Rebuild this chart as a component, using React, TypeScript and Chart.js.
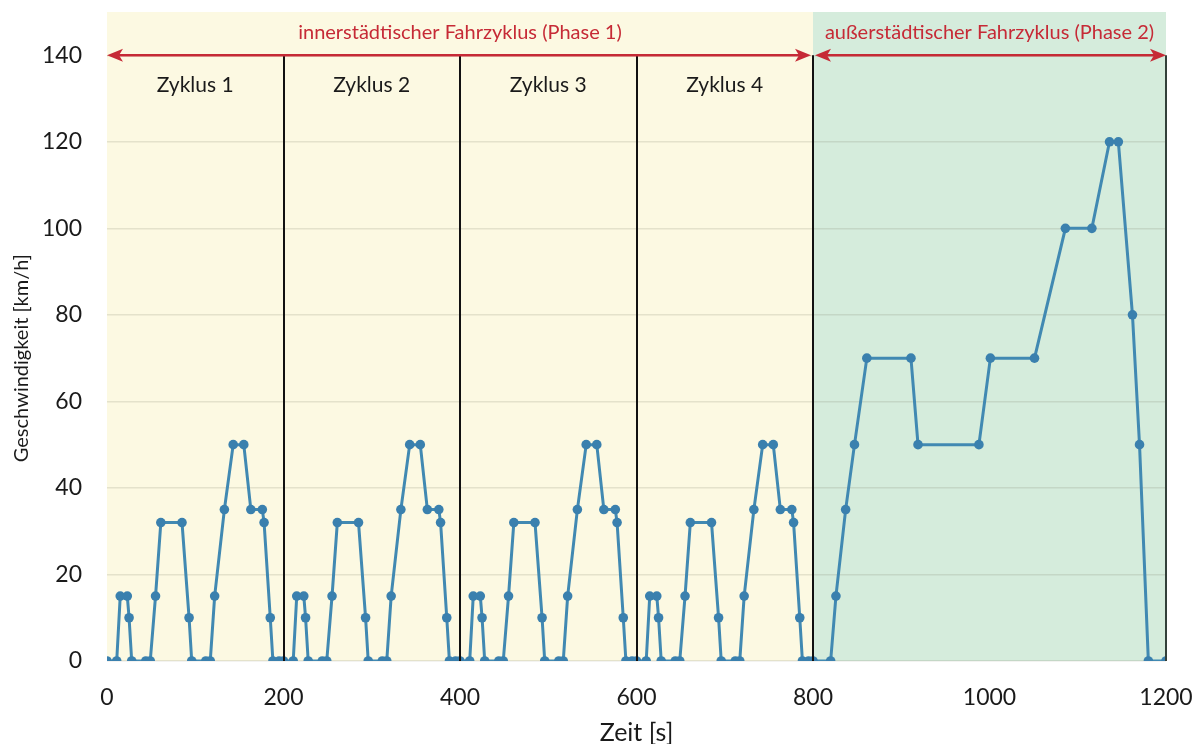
import React, { useEffect, useRef } from "react";
import { Chart, registerables } from "chart.js";

Chart.register(...registerables);

// ---- Data ----
const zeit: number[] = [
  // Zyklus 1
  0, 11, 15, 23, 25, 28, 44, 49, 55, 61, 85, 93, 96, 112, 117, 122, 133, 143, 155, 163, 176, 178, 185, 188, 195,
  // Zyklus 2
  200, 211, 215, 223, 225, 228, 244, 249, 255, 261, 285, 293, 296, 312, 317, 322, 333, 343, 355, 363, 376, 378, 385, 388, 395,
  // Zyklus 3
  400, 411, 415, 423, 425, 428, 444, 449, 455, 461, 485, 493, 496, 512, 517, 522, 533, 543, 555, 563, 576, 578, 585, 588, 595,
  // Zyklus 4
  600, 611, 615, 623, 625, 628, 644, 649, 655, 661, 685, 693, 696, 712, 717, 722, 733, 743, 755, 763, 776, 778, 785, 788, 795,
  // Phase 2
  800, 820, 826, 837, 847, 861, 911, 919, 988, 1001, 1051, 1086, 1116, 1136, 1146, 1162, 1170, 1180, 1200,
];

const geschwindigkeit: number[] = [
  0, 0, 15, 15, 10, 0, 0, 0, 15, 32, 32, 10, 0, 0, 0, 15, 35, 50, 50, 35, 35, 32, 10, 0, 0,
  0, 0, 15, 15, 10, 0, 0, 0, 15, 32, 32, 10, 0, 0, 0, 15, 35, 50, 50, 35, 35, 32, 10, 0, 0,
  0, 0, 15, 15, 10, 0, 0, 0, 15, 32, 32, 10, 0, 0, 0, 15, 35, 50, 50, 35, 35, 32, 10, 0, 0,
  0, 0, 15, 15, 10, 0, 0, 0, 15, 32, 32, 10, 0, 0, 0, 15, 35, 50, 50, 35, 35, 32, 10, 0, 0,
  0, 0, 15, 35, 50, 70, 70, 50, 50, 70, 70, 100, 100, 120, 120, 80, 50, 0, 0,
];

const xTickWerte: number[] = [0, 200, 400, 600, 800, 1000, 1200];
const yTickWerte: number[] = [0, 20, 40, 60, 80, 100, 120, 140];

const zyklusNamen: string[] = ["Zyklus 1", "Zyklus 2", "Zyklus 3", "Zyklus 4"];
const zyklusMitten: number[] = [100, 300, 500, 700];
const zyklusGrenzen: number[] = [200, 400, 600, 800, 1200];

const phasenTitel: string[] = [
  "innerstädtischer Fahrzyklus (Phase 1)",
  "außerstädtischer Fahrzyklus (Phase 2)",
];
const phasenStart: number[] = [0, 800];
const phasenEnde: number[] = [800, 1200];
const phasenFarbe: string[] = ["#FCF9E2", "#D5ECDC"];

const Y_TITEL = "Geschwindigkeit [km/h]";
const X_TITEL = "Zeit [s]";

const X_MIN = 0;
const X_MAX = 1200;
const Y_MIN = 0;
const Y_MAX = 150;
const PFEIL_Y = 140;
const PHASEN_TEXT_Y = 145.3;
const ZYKLUS_TEXT_Y = 133;

const FONT = "Lato, 'Open Sans', sans-serif";
const ROT = "#C62A36";
const LINIE = "#4189B2";
const PUNKT = "#3A80AE";

function pfeilSpitze(ctx: CanvasRenderingContext2D, x: number, y: number, dir: number) {
  const L = 16;
  const W = 6.5;
  const notch = 4;
  ctx.beginPath();
  ctx.moveTo(x, y);
  ctx.lineTo(x - dir * L, y - W);
  ctx.lineTo(x - dir * (L - notch), y);
  ctx.lineTo(x - dir * L, y + W);
  ctx.closePath();
  ctx.fill();
}

const hintergrundPlugin = {
  id: "phasenHintergrund",
  beforeDraw(chart: any) {
    const { ctx, scales } = chart;
    const xs = scales.x;
    const ys = scales.y;
    ctx.save();
    for (let i = 0; i < phasenStart.length; i++) {
      const x1 = xs.getPixelForValue(phasenStart[i]);
      const x2 = xs.getPixelForValue(phasenEnde[i]);
      const y1 = ys.getPixelForValue(Y_MAX);
      const y2 = ys.getPixelForValue(Y_MIN);
      ctx.fillStyle = phasenFarbe[i];
      ctx.fillRect(x1, y1, x2 - x1, y2 - y1);
    }
    // y axis title, centred on the 0..140 range
    const yc = (ys.getPixelForValue(0) + ys.getPixelForValue(140)) / 2;
    ctx.translate(22, yc);
    ctx.rotate(-Math.PI / 2);
    ctx.fillStyle = "#1a1a1a";
    ctx.font = `20px ${FONT}`;
    ctx.textAlign = "center";
    ctx.textBaseline = "middle";
    ctx.fillText(Y_TITEL, 0, 0);
    ctx.restore();
  },
};

const overlayPlugin = {
  id: "annotationen",
  afterDatasetsDraw(chart: any) {
    const { ctx, scales } = chart;
    const xs = scales.x;
    const ys = scales.y;
    const yTop = ys.getPixelForValue(PFEIL_Y);
    const yBot = ys.getPixelForValue(0);
    ctx.save();
    // vertical separators
    for (const g of zyklusGrenzen) {
      const x = Math.round(xs.getPixelForValue(g));
      ctx.strokeStyle = g === 1200 ? "#33403a" : "#111111";
      ctx.lineWidth = 2;
      ctx.beginPath();
      ctx.moveTo(x, yTop);
      ctx.lineTo(x, yBot);
      ctx.stroke();
    }
    // arrows
    ctx.strokeStyle = ROT;
    ctx.fillStyle = ROT;
    ctx.lineWidth = 2.5;
    for (let i = 0; i < phasenStart.length; i++) {
      let x1 = xs.getPixelForValue(phasenStart[i]);
      let x2 = xs.getPixelForValue(phasenEnde[i]);
      if (i === 0) x2 -= 2;
      if (i === 1) x1 += 2;
      const y = yTop;
      ctx.beginPath();
      ctx.moveTo(x1 + 8, y);
      ctx.lineTo(x2 - 8, y);
      ctx.stroke();
      pfeilSpitze(ctx, x1, y, -1);
      pfeilSpitze(ctx, x2, y, 1);
      // label
      ctx.font = `20px ${FONT}`;
      ctx.textAlign = "center";
      ctx.textBaseline = "middle";
      const xm = xs.getPixelForValue((phasenStart[i] + phasenEnde[i]) / 2);
      ctx.fillText(phasenTitel[i], xm, ys.getPixelForValue(PHASEN_TEXT_Y));
    }
    // Zyklus labels
    ctx.fillStyle = "#1a1a1a";
    ctx.font = `21px ${FONT}`;
    for (let i = 0; i < zyklusNamen.length; i++) {
      ctx.fillText(zyklusNamen[i], xs.getPixelForValue(zyklusMitten[i]), ys.getPixelForValue(ZYKLUS_TEXT_Y));
    }
    ctx.restore();
  },
};

export default function App() {
  const ref = useRef<HTMLCanvasElement | null>(null);

  useEffect(() => {
    if (!ref.current) return;
    const punkte = zeit.map((t, i) => ({ x: t, y: geschwindigkeit[i] }));
    const chart = new Chart(ref.current, {
      type: "line",
      data: {
        datasets: [
          {
            label: "Geschwindigkeit",
            data: punkte,
            borderColor: LINIE,
            backgroundColor: PUNKT,
            pointBackgroundColor: PUNKT,
            pointBorderColor: PUNKT,
            pointRadius: 4.8,
            pointBorderWidth: 0,
            borderWidth: 3,
            tension: 0,
            fill: false,
          },
        ],
      },
      options: {
        responsive: false,
        animation: false,
        devicePixelRatio: 1,
        layout: { padding: { top: 12, right: 36, left: 0, bottom: 0 } },
        plugins: {
          legend: { display: false },
          tooltip: { enabled: false },
        },
        scales: {
          x: {
            type: "linear",
            min: X_MIN,
            max: X_MAX,
            afterBuildTicks: (scale: any) => {
              scale.ticks = xTickWerte.map((v) => ({ value: v }));
            },
            afterFit: (scale: any) => {
              scale.height = 83;
              scale.paddingLeft = 0;
              scale.paddingRight = 0;
            },
            grid: { display: false, drawTicks: false },
            border: { display: false },
            ticks: {
              padding: 23,
              color: "#1a1a1a",
              font: { family: FONT, size: 23 },
              maxRotation: 0,
              callback: (v: any) => String(v),
            },
            title: {
              display: true,
              text: X_TITEL,
              color: "#1a1a1a",
              font: { family: FONT, size: 25 },
              padding: { top: 0, bottom: -4 },
            },
          },
          y: {
            type: "linear",
            min: Y_MIN,
            max: Y_MAX,
            afterBuildTicks: (scale: any) => {
              scale.ticks = yTickWerte.map((v) => ({ value: v }));
            },
            afterFit: (scale: any) => {
              scale.width = 107;
              scale.paddingTop = 0;
              scale.paddingBottom = 0;
            },
            grid: { color: "rgba(120,120,100,0.18)", lineWidth: 1.5, drawTicks: false },
            border: { display: false },
            ticks: {
              padding: 25,
              color: "#1a1a1a",
              font: { family: FONT, size: 23 },
              callback: (v: any) => String(v),
            },
            title: { display: false },
          },
        },
      },
      plugins: [hintergrundPlugin, overlayPlugin],
    });
    return () => chart.destroy();
  }, []);

  return (
    <div
      style={{
        position: "fixed",
        left: 0,
        top: 0,
        width: 1202,
        height: 744,
        background: "#ffffff",
      }}
    >
      <canvas ref={ref} width={1202} height={744} style={{ width: 1202, height: 744, display: "block" }} />
    </div>
  );
}
